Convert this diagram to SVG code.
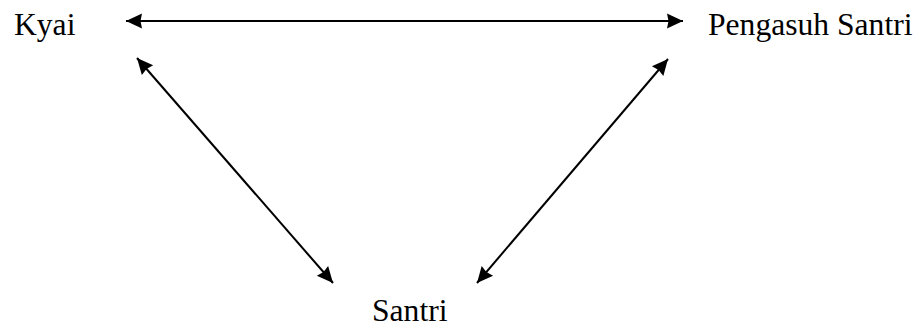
<svg xmlns="http://www.w3.org/2000/svg" width="922" height="327" viewBox="0 0 922 327">
<style>
text{font-family:"Liberation Serif","Times New Roman",serif;font-size:31.6px;fill:#000}
.c{stroke:#000;stroke-width:2;fill:none;marker-start:url(#ah);marker-end:url(#ah)}
</style>
<defs>
<marker id="ah" markerUnits="userSpaceOnUse" markerWidth="18" markerHeight="18" viewBox="0 0 18 18" refX="17" refY="9" orient="auto-start-reverse">
<path d="M1,1.5 L17,9 L1,16.5 L2.5,9 Z" fill="#000"/>
</marker>
</defs>
<rect width="922" height="327" fill="#fff"/>
<g id="connectors">
<line class="c" x1="126" y1="21" x2="683" y2="21"/>
<line class="c" x1="137" y1="58" x2="333" y2="283"/>
<line class="c" x1="668" y1="59" x2="477" y2="283"/>
</g>
<g id="kyai"><text x="14" y="35">Kyai</text></g>
<g id="pengasuh"><text x="708" y="35">Pengasuh Santri</text></g>
<g id="santri"><text x="372" y="321">Santri</text></g>
</svg>
